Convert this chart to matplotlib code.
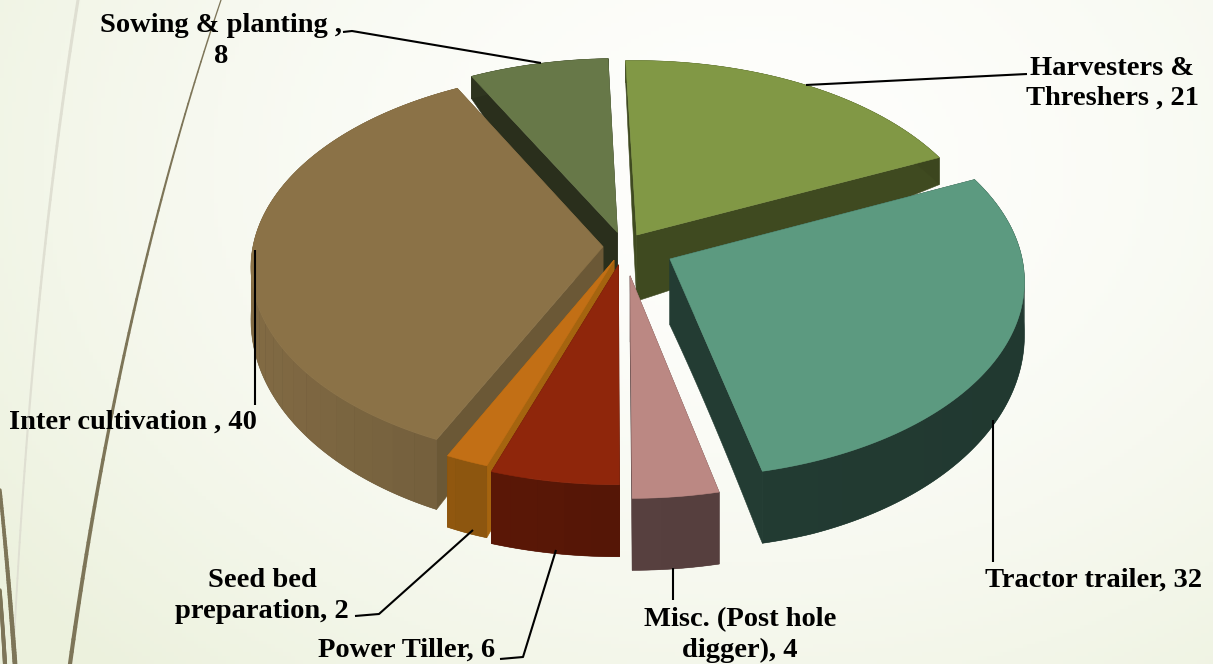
import numpy as np
import matplotlib
matplotlib.use("Agg")
import matplotlib.pyplot as plt
from matplotlib.collections import PolyCollection, LineCollection
from matplotlib.colors import to_rgb

# ---------- data ----------
names = ["Harvesters &\nThreshers , ", "Tractor trailer, ", "Misc. (Post hole\ndigger), ",
         "Power Tiller, ", "Seed bed\npreparation, ", "Inter cultivation , ", "Sowing & planting ,\n"]
values = [21, 32, 4, 6, 2, 40, 8]
explode = [0.07, 0.145, 0.15, 0.095, 0.075, 0.06, 0.075]
top_colors = ["#819845", "#5c9a80", "#bb8883", "#8f260b", "#c26f15", "#8b7247", "#677848"]
side_colors = ["#3f4a20", "#233c33", "#57403f", "#551606", "#84500e", "#6b5838", "#2a2f1c"]
draw_order = [6, 0, 5, 1, 4, 3, 2]
label_pos = [(1112, 83.5), (1094, 580), (740, 635), (407, 650), (262, 596), (133, 422), (221, 41)]
leaders = [[(1027, 74), (806, 85)],
           [(993, 420), (993, 562)],
           [(673, 568), (673, 600)],
           [(556, 550), (523, 657), (500, 659)],
           [(473, 530), (379, 614), (355, 616)],
           [(255, 250), (255, 405)],
           [(343, 32), (352, 31), (541, 63)]]

# ---------- projection ----------
CX, CY, A, B, K = 624, 246.5, 350, 194, 0.10
ROT = np.deg2rad(-1.8)


def project(x, y):
    s = 1 - K * y
    return CX + A * x / s, CY + B * y / s


def thick(x, y, r):
    out = np.interp(y, [-1, -0.39, 0, 1], [22, 28, 50, 72])
    return out * r + 66 * (1 - r)


def shade(col, f):
    return tuple(np.clip(np.array(to_rgb(col)) * f, 0, 1))


fig = plt.figure(figsize=(12.13, 6.64), dpi=100)
ax = fig.add_axes([0, 0, 1, 1])
ax.set_xlim(0, 1213)
ax.set_ylim(664, 0)
ax.axis("off")

# ---------- background ----------
gx, gy = np.meshgrid(np.linspace(0, 1, 300), np.linspace(0, 1, 170))
d = np.sqrt(((gx - 0.62) / 0.78) ** 2 + ((gy - 0.25) / 1.05) ** 2)
d = np.clip(d, 0, 1)[..., None] ** 1.7
inner = np.array(to_rgb("#fefefc"))
outer = np.array(to_rgb("#ecf1dd"))
ax.imshow(inner * (1 - d) + outer * d, extent=(0, 1213, 664, 0), aspect="auto", zorder=0)


def curve(p0, p1, p2, color, w0, w1):
    t = np.linspace(0, 1, 60)[:, None]
    pts = (1 - t) ** 2 * np.array(p0) + 2 * t * (1 - t) * np.array(p1) + t ** 2 * np.array(p2)
    segs = np.stack([pts[:-1], pts[1:]], axis=1)
    ax.add_collection(LineCollection(segs, colors=color, linewidths=np.linspace(w0, w1, 59), zorder=1, capstyle="round"))


curve((78, 0), (30, 300), (13, 664), "#dfdfd2", 2.2, 1.2)
curve((221, 0), (120, 300), (70, 664), "#7d7558", 0.9, 3.0)
curve((0, 490), (9, 580), (15, 664), "#7d7558", 2.4, 3.4)
curve((0, 590), (3, 630), (5, 664), "#7d7558", 2.4, 3.0)

# ---------- 3-D exploded pie ----------
vals = np.array(values, float)
edges = np.concatenate([[0], np.cumsum(vals)]) / vals.sum() * 2 * np.pi + ROT

for i in draw_order:
    z = 2 + draw_order.index(i) * 0.1
    t0, t1 = edges[i], edges[i + 1]
    mid = (t0 + t1) / 2
    ox, oy = explode[i] * np.sin(mid), -explode[i] * np.cos(mid)
    th = np.linspace(t0, t1, max(int((t1 - t0) * 60), 6))
    ux, uy = np.sin(th), -np.cos(th)
    dx, dy = ux + ox, uy + oy
    sx, sy = project(dx, dy)
    ax_x, ax_y = project(ox, oy)
    wall = thick(dx, dy, 1.0)
    side = side_colors[i]
    # radial walls
    for j in (0, -1):
        rs = np.linspace(0, 1, 30)
        qx, qy = project(ox + rs * ux[j], oy + rs * uy[j])
        tk = thick(ox + rs * ux[j], oy + rs * uy[j], rs)
        col = "#a5640f" if i == 4 else ("#6b5836" if i == 5 else side)
        ax.fill(np.r_[qx, qx[::-1]], np.r_[qy, (qy + tk)[::-1]], color=col, lw=0.4, zorder=z)
    # curved outer wall: solid underlay, then coarse horizontal shading steps
    ax.fill(np.r_[sx, sx[::-1]], np.r_[sy, (sy + wall)[::-1]], color=side, lw=0.4, zorder=z + 0.01)
    step = 4
    polys, cols = [], []
    for k in range(0, len(th) - 1, step):
        m = min(k + step + 1, len(th))
        polys.append(np.column_stack([np.r_[sx[k:m], sx[k:m][::-1]],
                                      np.r_[sy[k:m], (sy + wall)[k:m][::-1]]]))
        xm = ux[k]
        cols.append(shade(side, 1 - 0.22 * xm if xm < 0 else 1 - 0.06 * xm))
    ax.add_collection(PolyCollection(polys, facecolors=cols, edgecolors="none", zorder=z + 0.02))
    # top face
    ax.fill(np.r_[ax_x, sx], np.r_[ax_y, sy], color=top_colors[i], lw=0.4, zorder=z + 0.03)

# ---------- leaders and labels ----------
for line in leaders:
    xs, ys = zip(*line)
    ax.plot(xs, ys, color="black", lw=1.5, zorder=4, solid_capstyle="butt")

font = dict(family="Liberation Serif", weight="bold", size=20.5, color="black", ha="center",
            va="center", linespacing=1.27, zorder=5)
for name, value, (lx, ly) in zip(names, values, label_pos):
    ax.text(lx, ly, f"{name}{value}", **font)

fig.savefig("out.png", dpi=100)
